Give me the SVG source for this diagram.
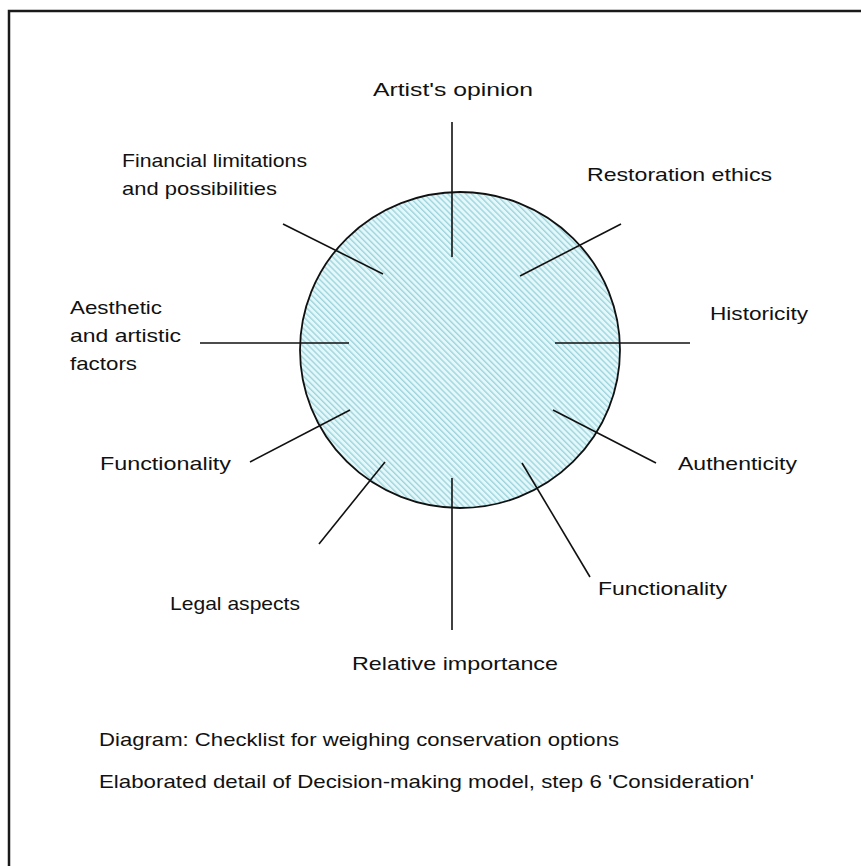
<svg xmlns="http://www.w3.org/2000/svg" width="861" height="866" viewBox="0 0 861 866">
<style>
text{font-family:"Liberation Sans",Arial,sans-serif;font-size:19px;fill:#111}
.ln{stroke:#111;stroke-width:1.6;fill:none}
</style>
<defs>
<pattern id="hatch" patternUnits="userSpaceOnUse" width="4.2" height="4.2" patternTransform="rotate(45)">
<rect width="4.2" height="4.2" fill="#e2f8fb"/>
<line x1="0" y1="1" x2="4.2" y2="1" stroke="#9fd4dc" stroke-width="1.4"/>
</pattern>
</defs>
<rect x="0" y="0" width="861" height="866" fill="#fff"/>
<rect x="9" y="11" width="900" height="900" fill="none" stroke="#1a1a1a" stroke-width="2.5"/>
<g id="hub">
<ellipse cx="460" cy="350" rx="160" ry="158" fill="url(#hatch)" stroke="#111" stroke-width="1.8"/>
</g>
<g id="connectors">
<line class="ln" x1="452" y1="122" x2="452" y2="257"/>
<line class="ln" x1="452" y1="478" x2="452" y2="630"/>
<line class="ln" x1="555" y1="343" x2="690" y2="343"/>
<line class="ln" x1="200" y1="343" x2="349" y2="343"/>
<line class="ln" x1="520" y1="276" x2="621" y2="224"/>
<line class="ln" x1="283" y1="224" x2="383" y2="274"/>
<line class="ln" x1="553" y1="410" x2="656" y2="463"/>
<line class="ln" x1="350" y1="410" x2="250" y2="462"/>
<line class="ln" x1="385" y1="462" x2="319" y2="544"/>
<line class="ln" x1="522" y1="463" x2="590" y2="577"/>
</g>
<g id="artist"><text x="373" y="96" textLength="160" lengthAdjust="spacingAndGlyphs">Artist's opinion</text></g>
<g id="financial">
<text x="122" y="167" textLength="185" lengthAdjust="spacingAndGlyphs">Financial limitations</text>
<text x="122" y="195" textLength="155" lengthAdjust="spacingAndGlyphs">and possibilities</text>
</g>
<g id="restoration"><text x="587" y="181" textLength="185" lengthAdjust="spacingAndGlyphs">Restoration ethics</text></g>
<g id="aesthetic">
<text x="70" y="314" textLength="92" lengthAdjust="spacingAndGlyphs">Aesthetic</text>
<text x="70" y="342" textLength="111" lengthAdjust="spacingAndGlyphs">and artistic</text>
<text x="70" y="370" textLength="67" lengthAdjust="spacingAndGlyphs">factors</text>
</g>
<g id="historicity"><text x="710" y="320" textLength="98" lengthAdjust="spacingAndGlyphs">Historicity</text></g>
<g id="functionality-left"><text x="100" y="470" textLength="131" lengthAdjust="spacingAndGlyphs">Functionality</text></g>
<g id="authenticity"><text x="678" y="470" textLength="119" lengthAdjust="spacingAndGlyphs">Authenticity</text></g>
<g id="legal"><text x="170" y="610" textLength="130" lengthAdjust="spacingAndGlyphs">Legal aspects</text></g>
<g id="functionality-right"><text x="598" y="595" textLength="129" lengthAdjust="spacingAndGlyphs">Functionality</text></g>
<g id="relative"><text x="352" y="670" textLength="206" lengthAdjust="spacingAndGlyphs">Relative importance</text></g>
<g id="caption">
<text x="99" y="746" textLength="520" lengthAdjust="spacingAndGlyphs">Diagram: Checklist for weighing conservation options</text>
<text x="99" y="788" textLength="655" lengthAdjust="spacingAndGlyphs">Elaborated detail of Decision-making model, step 6 'Consideration'</text>
</g>
</svg>
